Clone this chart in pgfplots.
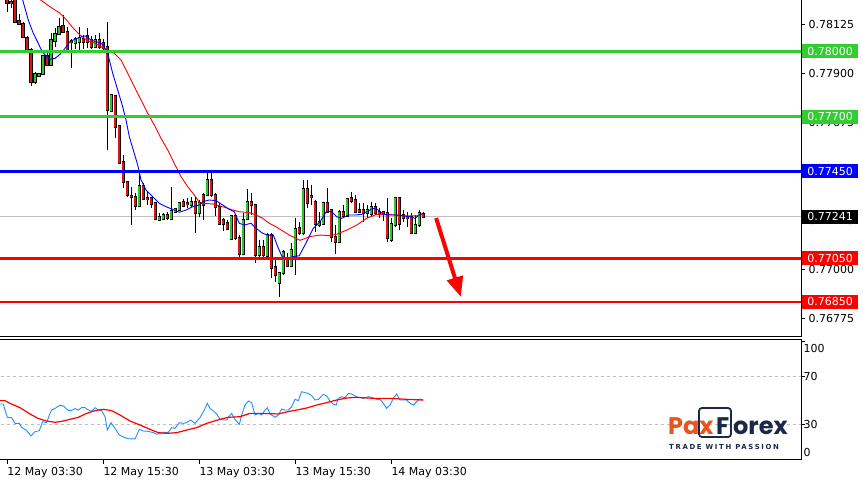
\documentclass[border=0pt]{standalone}
\usepackage{pgfplots}
\pgfplotsset{compat=1.18}
\usepackage{pgfplotstable}
\usepackage{fontspec}
\setmainfont{DejaVu Sans}
\newfontfamily\paxfont{Poppins}
\newfontfamily\paxsmall{DejaVu Sans}[LetterSpace=24]
\usetikzlibrary{arrows.meta}
\definecolor{lvlgreen}{RGB}{50,205,50}
\definecolor{cgreen}{RGB}{40,200,40}
\definecolor{cred}{RGB}{220,20,20}
\definecolor{rsiblue}{RGB}{30,144,255}
\definecolor{paxorange}{RGB}{232,84,30}
\definecolor{paxnavy}{RGB}{27,40,72}
\definecolor{dashgray}{RGB}{192,192,192}
\newcommand{\lab}{\fontsize{11}{13}\selectfont}
\pgfplotsset{
  candle/.style n args={3}{draw=none, mark=none, forget plot,
    error bars/.cd, y dir=#2, y explicit, error mark=none,
    error bar style={draw=#1, color=#1, solid, line cap=butt, line width=#3}},
}

\pgfplotstableread{
i O H L C
0 0.78259 0.78282 0.78180 0.78221
1 0.78227 0.78250 0.78198 0.78222
2 0.78250 0.78259 0.78132 0.78136
3 0.78141 0.78172 0.78126 0.78129
4 0.78129 0.78136 0.78060 0.78065
5 0.78065 0.78071 0.78007 0.78010
6 0.78010 0.78014 0.77843 0.77861
7 0.77861 0.77907 0.77850 0.77896
8 0.77887 0.77900 0.77881 0.77896
9 0.77896 0.77984 0.77892 0.77979
10 0.77979 0.77991 0.77933 0.77938
11 0.77938 0.78083 0.77933 0.78052
12 0.78049 0.78106 0.78022 0.78083
13 0.78080 0.78152 0.78075 0.78113
14 0.78117 0.78167 0.78083 0.78090
15 0.78090 0.78113 0.77994 0.77999
16 0.78048 0.78056 0.77923 0.78043
17 0.78040 0.78068 0.78010 0.78056
18 0.78045 0.78113 0.78007 0.78060
19 0.78056 0.78075 0.78010 0.78045
20 0.78071 0.78106 0.78014 0.78045
21 0.78052 0.78071 0.78010 0.78022
22 0.78022 0.78075 0.78014 0.78052
23 0.78052 0.78086 0.78010 0.78022
24 0.78040 0.78056 0.78007 0.78017
25 0.78020 0.78136 0.77548 0.77731
26 0.77728 0.77805 0.77723 0.77800
27 0.77795 0.77800 0.77601 0.77654
28 0.77658 0.77662 0.77486 0.77489
29 0.77494 0.77525 0.77372 0.77402
30 0.77402 0.77405 0.77333 0.77341
31 0.77339 0.77379 0.77203 0.77334
32 0.77333 0.77349 0.77272 0.77292
33 0.77292 0.77441 0.77287 0.77382
34 0.77382 0.77395 0.77318 0.77323
35 0.77327 0.77356 0.77295 0.77323
36 0.77326 0.77333 0.77280 0.77300
37 0.77303 0.77304 0.77226 0.77229
38 0.77229 0.77257 0.77226 0.77241
39 0.77234 0.77258 0.77229 0.77248
40 0.77249 0.77264 0.77226 0.77234
41 0.77234 0.77379 0.77234 0.77269
42 0.77264 0.77280 0.77257 0.77275
43 0.77272 0.77310 0.77267 0.77303
44 0.77307 0.77321 0.77287 0.77292
45 0.77304 0.77327 0.77281 0.77300
46 0.77296 0.77333 0.77287 0.77312
47 0.77310 0.77333 0.77165 0.77257
48 0.77257 0.77318 0.77238 0.77303
49 0.77341 0.77349 0.77226 0.77295
50 0.77341 0.77441 0.77336 0.77413
51 0.77413 0.77443 0.77333 0.77341
52 0.77341 0.77349 0.77245 0.77287
53 0.77287 0.77303 0.77203 0.77211
54 0.77226 0.77234 0.77177 0.77211
55 0.77214 0.77226 0.77180 0.77188
56 0.77138 0.77249 0.77134 0.77245
57 0.77245 0.77249 0.77134 0.77142
58 0.77147 0.77157 0.77058 0.77070
59 0.77073 0.77257 0.77070 0.77229
60 0.77229 0.77367 0.77226 0.77310
61 0.77310 0.77349 0.77249 0.77295
62 0.77295 0.77295 0.77028 0.77066
63 0.77066 0.77134 0.77058 0.77101
64 0.77101 0.77134 0.77058 0.77066
65 0.77061 0.77165 0.77058 0.77157
66 0.77157 0.77165 0.76959 0.77005
67 0.77012 0.77043 0.76943 0.76974
68 0.76936 0.76989 0.76874 0.76982
69 0.76982 0.77089 0.76974 0.77081
70 0.77043 0.77073 0.77012 0.77015
71 0.77015 0.77119 0.77012 0.77089
72 0.77058 0.77234 0.76974 0.77188
73 0.77188 0.77218 0.77157 0.77165
74 0.77165 0.77410 0.77157 0.77367
75 0.77367 0.77410 0.77280 0.77303
76 0.77336 0.77387 0.77295 0.77332
77 0.77310 0.77318 0.77173 0.77208
78 0.77203 0.77264 0.77195 0.77218
79 0.77208 0.77306 0.77203 0.77303
80 0.77303 0.77372 0.77264 0.77264
81 0.77272 0.77277 0.77127 0.77150
82 0.77150 0.77203 0.77069 0.77127
83 0.77127 0.77272 0.77125 0.77264
84 0.77264 0.77295 0.77236 0.77245
85 0.77245 0.77329 0.77241 0.77326
86 0.77326 0.77356 0.77303 0.77315
87 0.77318 0.77341 0.77260 0.77264
88 0.77272 0.77303 0.77257 0.77264
89 0.77272 0.77303 0.77218 0.77257
90 0.77257 0.77295 0.77234 0.77272
91 0.77254 0.77310 0.77241 0.77287
92 0.77287 0.77303 0.77249 0.77257
93 0.77264 0.77280 0.77234 0.77257
94 0.77264 0.77264 0.77223 0.77257
95 0.77257 0.77326 0.77127 0.77142
96 0.77134 0.77234 0.77127 0.77211
97 0.77203 0.77327 0.77195 0.77326
98 0.77326 0.77327 0.77180 0.77208
99 0.77249 0.77272 0.77218 0.77234
100 0.77241 0.77264 0.77195 0.77234
101 0.77241 0.77257 0.77165 0.77168
102 0.77168 0.77249 0.77165 0.77203
103 0.77203 0.77272 0.77195 0.77257
104 0.77257 0.77264 0.77234 0.77241
}\candles

\begin{document}
\begin{tikzpicture}
\path[use as bounding box] (0pt,0pt) rectangle (863pt,480pt);
% ---------------- main price panel
\begin{axis}[at={(-1pt,143.3pt)}, anchor=south west, scale only axis,
  width=802pt, height=337.7pt,
  xmin=-2.075, xmax=198.425, ymin=0.766905, ymax=0.782406,
  axis line style={black, line width=0.8pt},
  xtick=\empty,
  ytick={0.76775,0.77000,0.77225,0.77450,0.77675,0.77900,0.78125},
  yticklabels={0.76775,0.77000,0.77225,0.77450,0.77675,0.77900,0.78125},
  ytick pos=right, yticklabel pos=right,
  tick align=outside, major tick length=4pt,
  tick style={black, line width=0.8pt},
  yticklabel style={font=\lab, anchor=west},
  clip=true]
\addplot[dashgray, line width=0.8pt] coordinates {(-3,0.77241) (200,0.77241)};
% wicks
\addplot[candle={black}{plus}{1pt}]
  table[x=i, y=L, y error expr={\thisrow{H}-\thisrow{L}}] {\candles};
% body outlines
\addplot[candle={black}{both}{3.6pt}]
  table[x=i, y expr={(\thisrow{O}+\thisrow{C})/2}, y error expr={abs(\thisrow{O}-\thisrow{C})/2+0.0000459}] {\candles};
% bull fill
\addplot[candle={cgreen}{both}{1.8pt}]
  table[x=i, y expr={(\thisrow{O}+\thisrow{C})/2}, y error expr={max(\thisrow{C}-\thisrow{O},0)/2}] {\candles};
% bear fill
\addplot[candle={cred}{both}{1.8pt}]
  table[x=i, y expr={(\thisrow{O}+\thisrow{C})/2}, y error expr={max(\thisrow{O}-\thisrow{C},0)/2}] {\candles};
% slow MA
\addplot[red, line width=0.9pt] coordinates {(7.5,0.78270) (8.35,0.78236) (10.68,0.78205) (13.18,0.78175) (14.85,0.78144) (16.5,0.78106) (18.18,0.78075) (19.85,0.78052) (21.5,0.78040) (23.18,0.78025) (24.68,0.78007) (26.75,0.77991) (28.43,0.77961) (30.1,0.77900) (31.75,0.77838) (33.43,0.77777) (35.1,0.77716) (36.75,0.77662) (38.43,0.77601) (40.1,0.77548) (41.75,0.77486) (43.43,0.77425) (45.1,0.77379) (46.75,0.77341) (48.18,0.77303) (51.35,0.77300) (53.85,0.77287) (56.35,0.77272) (58.0,0.77264) (60.5,0.77260) (62.18,0.77249) (63.85,0.77234) (65.5,0.77211) (67.18,0.77195) (68.85,0.77176) (70.5,0.77157) (72.18,0.77142) (73.18,0.77133) (75.68,0.77150) (78.18,0.77157) (80.68,0.77154) (82.35,0.77161) (84.85,0.77180) (87.35,0.77203) (89.85,0.77234) (92.35,0.77252) (94.85,0.77252) (97.35,0.77249) (99.85,0.77245) (102.35,0.77245) (104.0,0.77252)};
% fast MA
\addplot[blue, line width=0.9pt] coordinates {(3.0,0.78275) (3.85,0.78236) (5.25,0.78144) (6.5,0.78083) (7.75,0.78037) (8.6,0.78003) (9.85,0.77976) (10.68,0.77964) (11.93,0.77968) (13.18,0.77987) (14.43,0.78014) (15.68,0.78045) (16.93,0.78056) (18.18,0.78065) (19.43,0.78071) (20.68,0.78056) (21.93,0.78045) (23.18,0.78040) (24.0,0.78029) (25.1,0.77991) (26.35,0.77900) (27.6,0.77823) (28.85,0.77746) (29.68,0.77685) (30.5,0.77609) (31.5,0.77547) (32.6,0.77479) (33.43,0.77410) (34.68,0.77364) (36.35,0.77333) (38.0,0.77303) (39.68,0.77287) (41.35,0.77275) (43.0,0.77262) (44.68,0.77272) (46.35,0.77287) (48.0,0.77295) (48.85,0.77310) (50.5,0.77318) (52.18,0.77315) (53.85,0.77295) (55.5,0.77275) (56.75,0.77264) (58.0,0.77211) (59.25,0.77203) (60.93,0.77211) (62.18,0.77188) (63.85,0.77165) (65.1,0.77157) (66.5,0.77157) (67.6,0.77104) (68.68,0.77058) (70.1,0.77050) (71.35,0.77058) (73.0,0.77062) (74.85,0.77127) (76.5,0.77188) (78.18,0.77218) (79.85,0.77267) (81.1,0.77264) (82.35,0.77241) (83.6,0.77234) (85.25,0.77249) (86.93,0.77249) (88.6,0.77252) (89.85,0.77264) (91.5,0.77280) (92.75,0.77272) (94.0,0.77252) (95.68,0.77249) (97.35,0.77249) (99.0,0.77245) (100.68,0.77241) (101.93,0.77234) (103.18,0.77252) (104.0,0.77257)};
% levels
\addplot[lvlgreen, line width=2.8pt] coordinates {(-3,0.78000) (200,0.78000)};
\addplot[lvlgreen, line width=2.8pt] coordinates {(-3,0.77700) (200,0.77700)};
\addplot[blue, line width=2.8pt] coordinates {(-3,0.77450) (200,0.77450)};
\addplot[red, line width=2.8pt] coordinates {(-3,0.77050) (200,0.77050)};
\addplot[red, line width=2.8pt] coordinates {(-3,0.76850) (200,0.76850)};
% arrow
\addplot[red, line width=4pt, -{Triangle[length=20pt,width=16pt]}] coordinates {(107.2,0.77235) (113.4,0.76873)};
\coordinate (b1) at (axis cs:198.425,0.78000);
\coordinate (b2) at (axis cs:198.425,0.77700);
\coordinate (b3) at (axis cs:198.425,0.77450);
\coordinate (b4) at (axis cs:198.425,0.77241);
\coordinate (b5) at (axis cs:198.425,0.77050);
\coordinate (b6) at (axis cs:198.425,0.76850);
\end{axis}
% ---------------- indicator panel
\begin{axis}[at={(-1pt,20.4pt)}, anchor=south west, scale only axis,
  width=802pt, height=120.3pt,
  xmin=-2.075, xmax=198.425, ymin=0.37, ymax=101.42,
  axis line style={black, line width=0.8pt},
  xtick={0,24,48,72,96},
  xticklabels={12 May 03:30,12 May 15:30,13 May 03:30,13 May 15:30,14 May 03:30},
  xtick pos=bottom,
  ytick={0,30,70,100}, yticklabels={,,,},
  ytick pos=right,
  tick align=outside, major tick length=4pt,
  tick style={black, line width=0.8pt},
  xticklabel style={font=\lab, anchor=north west, inner xsep=0pt},
  clip=true]
\addplot[dashgray, line width=0.9pt, dash pattern=on 3pt off 3pt] coordinates {(-3,70) (200,70)};
\addplot[dashgray, line width=0.9pt, dash pattern=on 3pt off 3pt] coordinates {(-3,30) (200,30)};
\addplot[rsiblue, line width=0.9pt] coordinates {(-1.83,47.1) (-1.0,47.1) (-0.58,42.0) (0.01,35.9) (1.09,35.6) (1.93,30.8) (3.01,30.8) (3.59,27.5) (4.84,24.7) (5.93,20.2) (6.93,23.8) (8.01,24.7) (8.84,32.2) (9.84,31.4) (10.68,39.2) (11.09,42.0) (11.93,43.4) (13.18,46.0) (14.01,45.4) (15.26,41.7) (16.09,41.7) (16.93,43.2) (17.76,42.0) (18.59,44.0) (19.43,44.0) (20.26,42.0) (21.09,40.9) (21.93,44.0) (22.76,42.0) (23.59,41.5) (24.43,36.4) (25.01,25.2) (25.93,31.4) (26.93,26.6) (28.01,21.0) (29.18,19.1) (30.26,17.9) (31.93,17.7) (33.01,25.8) (34.01,24.4) (35.26,24.1) (36.51,23.0) (37.34,21.6) (38.18,22.4) (39.01,23.3) (40.26,23.3) (41.09,27.2) (41.93,26.6) (43.01,31.4) (44.01,30.8) (44.84,31.4) (45.84,33.6) (46.93,30.8) (48.18,35.6) (49.18,41.5) (50.01,47.6) (50.68,43.4) (51.51,41.2) (52.34,38.7) (53.18,34.2) (54.01,33.6) (54.84,33.6) (55.26,35.9) (56.09,39.2) (56.93,34.2) (58.01,30.0) (58.59,37.8) (59.43,46.2) (60.26,49.6) (61.09,48.2) (61.93,37.8) (62.76,39.2) (63.59,37.8) (64.43,42.0) (65.01,44.0) (65.68,38.7) (66.93,35.9) (67.76,37.8) (68.59,42.9) (69.43,42.0) (70.26,42.0) (71.09,44.8) (71.93,51.0) (72.76,49.9) (73.59,57.4) (74.43,56.6) (75.26,56.0) (76.09,54.1) (76.93,50.4) (77.76,51.0) (79.01,55.2) (79.84,53.8) (80.68,49.6) (81.51,46.8) (82.18,46.2) (82.76,51.8) (83.59,53.2) (84.43,52.4) (85.26,56.0) (86.09,55.5) (86.93,53.8) (87.76,52.7) (89.01,51.8) (90.26,53.2) (91.09,52.7) (92.34,51.0) (93.18,51.0) (94.01,47.6) (94.84,43.4) (95.68,46.2) (96.51,51.8) (97.34,55.5) (98.18,50.4) (99.01,50.4) (99.84,50.4) (100.68,47.6) (101.51,46.2) (102.34,49.0) (103.18,51.3) (104.01,50.4)};
\addplot[red, line width=1.2pt] coordinates {(-1.83,49.9) (-0.58,49.9) (0.68,47.6) (3.18,44.0) (5.68,38.7) (7.76,34.8) (9.84,32.8) (11.93,31.7) (13.59,32.5) (15.68,34.2) (17.76,35.9) (19.84,39.2) (21.93,41.5) (24.01,42.6) (26.09,41.5) (28.18,37.8) (30.68,32.8) (33.18,29.4) (35.68,25.8) (37.76,23.0) (39.84,22.4) (42.34,23.0) (44.84,25.2) (47.34,27.2) (49.84,30.8) (51.51,32.5) (53.18,34.2) (55.26,35.9) (58.18,36.4) (60.68,39.2) (63.59,39.2) (67.76,38.7) (69.84,40.4) (72.34,42.0) (74.84,43.7) (77.34,46.2) (79.84,48.2) (82.34,50.4) (84.84,52.1) (87.34,52.7) (91.51,51.8) (95.68,51.8) (99.84,51.0) (104.01,50.4)};
\coordinate (r100) at (axis cs:198.425,93.9);
\coordinate (r70) at (axis cs:198.425,70);
\coordinate (r30) at (axis cs:198.425,30);
\coordinate (r0) at (axis cs:198.425,6.2);
\end{axis}
% right-hand labels of the indicator
\foreach \c/\t in {r100/100,r70/70,r30/30,r0/0}
  \node[anchor=west, inner sep=0pt, font=\lab] at ([xshift=2.5pt]\c) {\t};
% price boxes
\foreach \c/\col/\t in {b1/lvlgreen/0.78000,b2/lvlgreen/0.77700,b3/blue/0.77450,b4/black/0.77241,b5/red/0.77050,b6/red/0.76850}
  \node[anchor=west, fill=\col, text=white, minimum width=56pt, minimum height=14pt, inner sep=0pt, font=\lab] at ([xshift=1pt]\c) {\t};
% logo
\node[anchor=base west, inner sep=0pt, text=paxorange, font=\paxfont\bfseries\fontsize{24}{26}\selectfont] at (668pt,46pt) {Pax};
\draw[paxnavy, line width=1.8pt, rounded corners=3pt] (699pt,43pt) rectangle (731pt,72pt);
\node[anchor=base west, inner sep=0pt, text=paxnavy, font=\paxfont\bfseries\fontsize{24}{26}\selectfont] at (716pt,46pt) {F};
\node[anchor=base west, inner sep=0pt, text=paxnavy, font=\paxfont\bfseries\fontsize{24}{26}\selectfont] at (733pt,46pt) {orex};
\node[anchor=base west, inner sep=0pt, text=paxnavy, font=\paxsmall\bfseries\fontsize{6.9}{8}\selectfont] at (669pt,31pt) {TRADE WITH PASSION};
\end{tikzpicture}
\end{document}
